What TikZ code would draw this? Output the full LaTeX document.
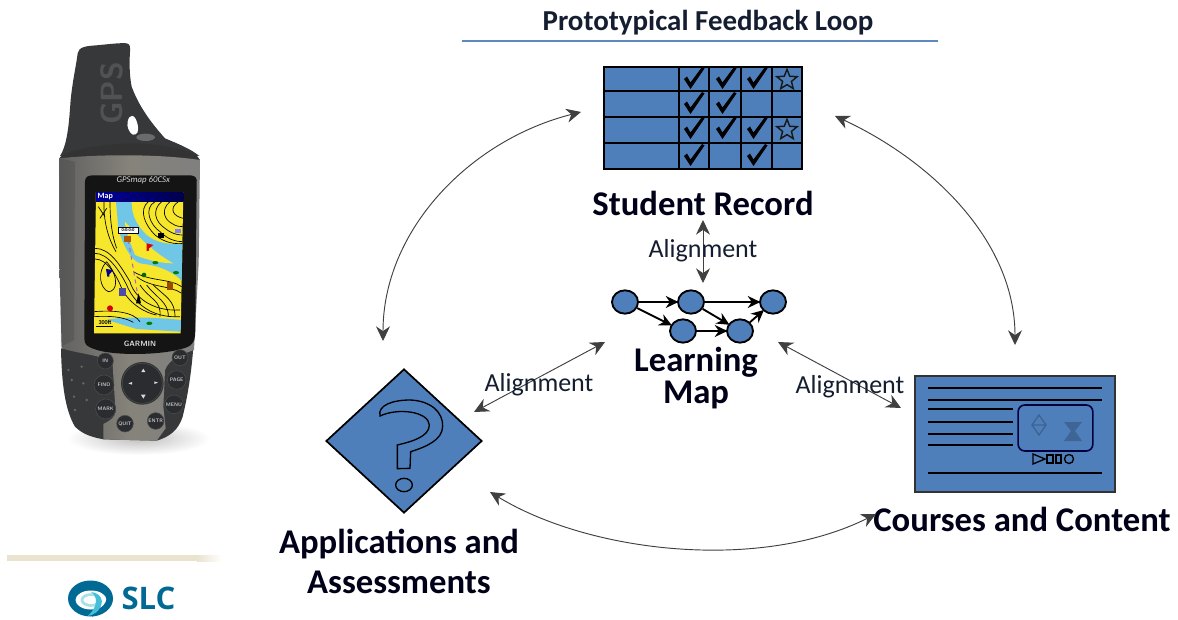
\documentclass[tikz,border=0pt]{standalone}
\usepackage{fontspec}
\setmainfont{Carlito}
\newfontfamily\logofont{Open Sans}
\usetikzlibrary{arrows.meta,shapes.geometric,calc}
\definecolor{tblue}{HTML}{4F7FBB}
\definecolor{ruleblue}{HTML}{5F88BC}
\definecolor{inktext}{HTML}{141E30}
\definecolor{gbody}{HTML}{86837A}
\definecolor{gdark}{HTML}{37383A}
\definecolor{gbtn}{HTML}{2A2C2F}
\definecolor{mapy}{HTML}{F6E62C}
\definecolor{mapb}{HTML}{6FC6E6}
\definecolor{logod}{HTML}{006A94}
\definecolor{logol}{HTML}{A9E0E6}
\definecolor{logom}{HTML}{45BFD8}
\definecolor{beige}{HTML}{E9E3CF}
\tikzset{
  arc/.style={draw=black!75,line width=.7pt,{Stealth[length=11pt,width=10.5pt]}-{Stealth[length=11pt,width=10.5pt]}},
  title/.style={font=\bfseries\fontsize{21.7}{24}\selectfont,text=inktext,inner sep=0pt},
  lab/.style={font=\bfseries\fontsize{26}{30}\selectfont,text=black!90!blue,inner sep=0pt,align=center},
  tightlab/.style={font=\bfseries\fontsize{26}{24}\selectfont,text=black!90!blue,inner sep=0pt,align=center},
  align lab/.style={font=\fontsize{19.5}{22}\selectfont,text=inktext,inner sep=0pt},
  mapnode/.style={ellipse,draw=black,line width=1.4pt,fill=tblue,minimum width=19.5pt,minimum height=17.5pt,inner sep=0pt},
  maparrow/.style={draw=black,line width=1.4pt,-{Stealth[length=9.5pt,width=9pt]},shorten >=-1pt},
  tbl/.style={draw=black,line width=1.2pt},
  cline/.style={draw=black,line width=.95pt},
  staricon/.style={star,star points=5,star point ratio=2.3,draw=black!90,line width=1.1pt,fill=tblue,minimum size=16pt,inner sep=0pt},
  contour/.style={draw=black,line width=.5pt},
  btn/.style={circle,fill=gbtn,draw=black!70,line width=.4pt,text=white!75!black,inner sep=0pt,font=\sffamily\bfseries\fontsize{3.8}{4}\selectfont},
}
\newcommand{\chkmark}[2]{\fill[black] ($(#1,#2)+(-9,-1)$) -- ++(3,-2.5) -- ++(3.5,6) -- ++(11.5,-15.5) -- ++(2.5,1.5) -- ++(-14,20.5) -- cycle;}
\begin{document}
\begin{tikzpicture}[x=0.75pt,y=-0.75pt]
\useasboundingbox (0,0) rectangle (1178,620);
\fill[white] (0,0) rectangle (1178,620);

% ---------- GPS device (coordinates from 3x crop)
\begin{scope}[shift={(0,30)},x=0.25pt,y=-0.25pt]
  \shade[inner color=black!25,outer color=white] (415,1225) ellipse (215 and 50);
  \fill[gdark] (180,378) .. controls (205,340) and (208,260) .. (212,210) .. controls (218,150) and (228,110) .. (233,70)
     .. controls (236,50) and (260,48) .. (290,46) .. controls (330,42) and (365,38) .. (380,40) .. controls (390,42) and (391,50) .. (390,65)
     .. controls (387,110) and (390,145) .. (395,170) .. controls (415,225) and (450,275) .. (495,325)
     .. controls (530,340) and (570,355) .. (598,378) -- cycle;
  \node[rotate=90,inner sep=0pt,text=black!68,font=\sffamily\bfseries\fontsize{23}{24}\selectfont] (gpstext) at (335,190) {GPS};
  \fill[white] (383,275) .. controls (388,250) and (405,252) .. (412,280) .. controls (418,305) and (412,316) .. (398,314) .. controls (386,305) and (380,290) .. (383,275) -- cycle;
  \fill[black!58] (437,322) ellipse (28 and 11);
  \fill[black!80] (178,385) .. controls (190,362) and (300,342) .. (400,340) .. controls (500,342) and (590,362) .. (600,390) -- (590,410) -- (185,415) -- cycle;
  % rubber grip
  \fill[gdark] (183,955) .. controls (185,1060) and (195,1140) .. (225,1190) .. controls (250,1215) and (280,1222) .. (310,1228)
     -- (470,1232) .. controls (510,1220) and (535,1200) .. (548,1160) .. controls (565,1090) and (575,1020) .. (580,950) -- cycle;
  \foreach \x/\y in {205/1020,215/1050,222/1100,225/1140,245/1010,250/1060,260/1110}{\fill[black!60] (\x,\y) circle (4);}
  % body
  \shade[left color=black!62,right color=black!50,middle color=gbody] (178,385) .. controls (300,372) and (480,372) .. (600,390)
     -- (596,700) -- (582,960) .. controls (540,975) and (510,985) .. (495,1020) -- (490,1130) -- (497,1195) -- (470,1232) -- (310,1228) -- (310,1182)
     .. controls (345,1165) and (352,1150) .. (345,1120) -- (338,1005) .. controls (320,975) and (250,975) .. (185,955) -- (178,700) -- cycle;
  \fill[black!75,opacity=.3] (178,385) -- (225,395) -- (222,930) -- (183,950) -- cycle;
  % bezel
  \fill[black!92] (255,455) .. controls (255,440) and (265,436) .. (280,436) -- (572,436) .. controls (588,438) and (592,445) .. (590,460)
     -- (586,900) .. controls (586,940) and (575,950) .. (540,958) .. controls (480,975) and (340,978) .. (285,958) .. controls (262,950) and (253,945) .. (253,925) -- cycle;
  \node[inner sep=0pt,text=white!85!black,font=\itshape\fontsize{6.6}{7}\selectfont] (model) at (430,452) {GPSmap 60CSx};
  \node[inner sep=0pt,text=white!85!black,font=\sffamily\bfseries\fontsize{5.7}{6}\selectfont] (brand) at (420,941) {GARMIN};
  % buttons
  \fill[black!80] (427,1060) circle (64);
  \node[btn,minimum size=30pt] (dpad) at (427,1060) {};
  \fill[white!85!black] (430,1016) -- ++(-6,10) -- ++(12,0) -- cycle (430,1106) -- ++(-7,-12) -- ++(14,0) -- cycle
     (385,1060) -- ++(11,-4) -- ++(0,8) -- cycle (474,1058) -- ++(-11,-4) -- ++(0,8) -- cycle;
  \node[btn,minimum size=12pt] (bin) at (316,993) {IN};
  \node[btn,minimum size=12pt] (bout) at (540,983) {OUT};
  \node[btn,minimum size=15pt] (bfind) at (312,1065) {FIND};
  \node[btn,minimum size=14pt] (bpage) at (530,1050) {PAGE};
  \node[btn,minimum size=15pt] (bmark) at (317,1137) {MARK};
  \node[btn,minimum size=14pt] (bmenu) at (522,1123) {MENU};
  \node[btn,minimum size=12.5pt] (bquit) at (375,1181) {QUIT};
  \node[btn,minimum size=12.5pt] (benter) at (467,1173) {ENTR};
\end{scope}

% ---------- map on the screen (coordinates from 3x crop)
\begin{scope}[shift={(90,185)},x=0.25pt,y=-0.25pt]
  \fill[mapy] (18,22) -- (280,22) -- (272,445) -- (12,445) -- cycle;
  \begin{scope}
    \clip (18,22) -- (280,22) -- (272,445) -- (12,445) -- cycle;
    \fill[mapb] (78,50) -- (125,50) .. controls (125,80) and (130,110) .. (170,150) .. controls (200,175) and (240,180) .. (280,175) -- (278,290)
       .. controls (240,250) and (190,240) .. (150,235) .. controls (120,225) and (95,170) .. (85,130) -- cycle;
    \fill[mapy] (105,110) .. controls (125,130) and (170,190) .. (250,235) .. controls (215,235) and (170,225) .. (135,210) .. controls (120,170) and (105,135) .. (105,110) -- cycle;
    \fill[mapb] (50,405) .. controls (90,395) and (180,395) .. (275,405) -- (272,440) -- (140,432) .. controls (100,420) and (70,410) .. (50,405) -- cycle;
    \draw[contour] (42,50) .. controls (40,120) and (60,170) .. (78,200);
    \draw[contour] (60,50) .. controls (60,100) and (65,150) .. (80,190);
    \draw[contour] (15,190) .. controls (60,190) and (90,240) .. (120,290) .. controls (130,330) and (180,380) .. (270,375);
    \draw[contour] (15,205) .. controls (55,205) and (90,260) .. (110,300) .. controls (130,350) and (180,400) .. (270,395);
    \draw[contour] (15,222) .. controls (50,222) and (80,270) .. (95,310) .. controls (120,360) and (170,385) .. (200,390);
    \draw[contour] (50,230) .. controls (20,260) and (30,310) .. (55,320) .. controls (80,320) and (90,280) .. (50,230);
    \draw[contour] (130,260) .. controls (180,290) and (240,280) .. (275,305);
    \draw[contour] (140,275) .. controls (185,310) and (240,300) .. (275,325);
    \draw[contour] (150,300) .. controls (180,345) and (215,345) .. (210,395);
    \draw[contour] (170,300) .. controls (200,340) and (235,350) .. (235,395);
    \draw[contour] (190,300) .. controls (225,335) and (255,345) .. (255,395);
    \draw[contour] (175,50) .. controls (145,75) and (165,120) .. (195,150) .. controls (225,175) and (260,178) .. (280,175);
    \draw[contour] (195,50) .. controls (160,70) and (180,120) .. (210,140) .. controls (240,170) and (270,170) .. (280,170);
    \draw[contour] (215,50) .. controls (185,75) and (195,110) .. (225,130) .. controls (250,150) and (270,150) .. (280,150);
    \draw[contour] (240,50) .. controls (210,75) and (225,105) .. (245,115) .. controls (260,125) and (270,125) .. (280,125);
    \draw[contour] (265,50) .. controls (235,70) and (250,95) .. (280,100);
    \draw[contour] (12,380) .. controls (70,375) and (130,380) .. (150,410);
    \draw[contour] (12,395) .. controls (60,392) and (100,395) .. (130,412);
    \draw[contour] (25,65) -- (45,95) (30,100) -- (50,70);
  \end{scope}
  \shade[left color=blue!60!black,right color=black!70!blue] (18,22) rectangle (280,50);
  \node[inner sep=0pt,text=white,font=\bfseries\fontsize{6}{7}\selectfont,anchor=west] (maptitle) at (22,36) {Map};
  \draw[draw=violet!60,line width=.8pt,dashed] (115,165) -- (145,340);
  \fill[black] (138,355) -- (146,325) -- (153,355) -- cycle;
  \fill[white,draw=black,line width=.2pt] (84,126) rectangle (145,143);
  \node[inner sep=0pt,font=\bfseries\fontsize{3.4}{4}\selectfont] (waypoint) at (114,134) {0:0:0:0};
  \fill[orange!70!black] (103,152) rectangle (122,170);
  \fill[red!85!black] (170,175) -- (190,180) -- (177,190) -- (176,198) -- (170,198) -- cycle;
  \fill[blue!60!black] (48,252) -- (70,255) -- (58,268) -- (58,275) -- (52,275) -- cycle;
  \fill[blue!50!black!70] (88,310) rectangle (108,332);
  \fill[red!85!black] (60,370) circle (9);
  \fill[green!40!black] (162,270) circle (7);
  \fill[green!50!black] (196,233) ellipse (9 and 5) (258,263) ellipse (9 and 5) (178,415) ellipse (9 and 5);
  \fill[orange!60!black] (230,290) rectangle (248,315);
  \fill[black] (205,143) rectangle (222,158);
  \fill[blue!50] (255,132) rectangle (272,145);
  \node[inner sep=0pt,font=\bfseries\fontsize{4.5}{5}\selectfont] (scalelab) at (45,413) {300ft};
  \draw[black,line width=.7pt] (18,424) -- (70,424);
\end{scope}

% ---------- logo area
\shade[left color=beige,right color=white] (197,555) rectangle (222,561);
\fill[beige] (7,555) rectangle (197,561);
\fill[logod] (90.5,598.5) ellipse (22.5 and 18);
\fill[white] (91,600) ellipse (15.5 and 9.5);
\draw[logol,line width=2pt] (91,600) ellipse (9 and 5.5);
\fill[logod] (92,616.5) .. controls (103,615) and (112,607) .. (113,598) -- (107,598) .. controls (106,604) and (101,609) .. (96,611) -- cycle;
\fill[logom] (91,592) .. controls (100,593) and (104,600) .. (101,606) .. controls (99,611) and (94,615) .. (88,616)
   .. controls (93,611) and (96,606) .. (96,601) .. controls (96,597) and (94,594) .. (91,592) -- cycle;
\node[inner sep=0pt,text=logod,font=\logofont\bfseries\fontsize{23.3}{24}\selectfont] (slc) at (148.5,598.5) {SLC};

% ---------- title
\node[title] (head) at (708,23) {Prototypical Feedback Loop};
\coordinate (ruleL) at (462,41);
\coordinate (ruleR) at (938,41);
\draw[ruleblue,line width=.8pt] (ruleL) -- (ruleR);

% ---------- student record table
\node[draw=black,line width=1.2pt,fill=tblue,minimum width=148.5pt,minimum height=76.5pt,inner sep=0pt] (record) at (703,118) {};
\foreach \x in {679,709,741,772}{\draw[tbl] (\x,67) -- (\x,169);}
\foreach \y in {91,117,143}{\draw[tbl] (604,\y) -- (802,\y);}
\chkmark{693}{80}\chkmark{725}{80}\chkmark{756}{80}
\chkmark{693}{105}\chkmark{725}{105}
\chkmark{693}{130}\chkmark{725}{130}\chkmark{756}{130}
\chkmark{693}{157}\chkmark{756}{157}
\node[staricon] (star1) at (787,80) {};
\node[staricon] (star2) at (787,130) {};
\node[lab] (recordlab) at (703,203) {Student Record};

% ---------- learning map
\node[mapnode] (m1) at (625,302) {};
\node[mapnode] (m2) at (691,302) {};
\node[mapnode] (m3) at (773,302) {};
\node[mapnode] (m4) at (683,331) {};
\node[mapnode] (m5) at (740,331) {};
\draw[maparrow] (m1) -- (m2);
\draw[maparrow] (m2) -- (m3);
\draw[maparrow] (m1) -- (m4);
\draw[maparrow] (m4) -- (m5);
\draw[maparrow] (m2) -- (m5);
\draw[maparrow] (m5) -- (m3);
\node[tightlab] (maplab) at (696,378) {Learning\\Map};

% ---------- assessment diamond
\node[diamond,draw=black,line width=1.3pt,fill=tblue,minimum width=117pt,minimum height=108pt,inner sep=0pt] (assess) at (404,441) {};
\begin{scope}[shift={(270,330)},x=0.25pt,y=-0.25pt]
  \draw[draw=black,line width=1pt,fill=tblue] (330,258) .. controls (322,225) and (370,210) .. (420,210) .. controls (480,212) and (520,245) .. (518,290)
     .. controls (516,330) and (470,350) .. (422,365) -- (420,415) -- (382,416) -- (382,345) .. controls (425,335) and (478,320) .. (478,285)
     .. controls (476,245) and (385,232) .. (330,258) -- cycle;
  \draw[draw=black,line width=1pt] (402,465) ellipse (25 and 20);
\end{scope}
\node[lab] (assesslab) at (399,561) {Applications and\\Assessments};

% ---------- courses and content
\node[draw=black!80,line width=1.1pt,fill=tblue,minimum width=150pt,minimum height=87pt,inner sep=0pt] (course) at (1015,434) {};
\foreach \y in {388,400,473}{\draw[cline] (928,\y) -- (1102,\y);}
\foreach \y in {409,422,434,445}{\draw[cline] (928,\y) -- (1013,\y);}
\node[draw=black!75!blue,rounded corners=5pt,line width=1.2pt,minimum width=56pt,minimum height=34.5pt,inner sep=0pt] (player) at (1055.5,428) {};
\draw[draw=black!22!tblue,line width=1pt] (1039,415) -- (1046,425) -- (1039,435) -- (1032,425) -- cycle (1032,425) -- (1046,425);
\fill[black!20!tblue] (1064,422) -- (1082,422) -- (1075,431) -- (1082,441) -- (1064,441) -- (1071,431) -- cycle;
\draw[draw=black,line width=1pt] (1033,454) -- (1045,459) -- (1033,464) -- cycle;
\draw[draw=black,line width=1pt] (1047,455) rectangle (1053,463) (1056,455) rectangle (1061,463);
\draw[draw=black,line width=1pt] (1069,459) circle (4.5);
\node[lab] (courselab) at (1022,519) {Courses and Content};

% ---------- connectors
\coordinate (a1) at (581,112);
\coordinate (a2) at (383,341);
\coordinate (b1) at (835,116);
\coordinate (b2) at (1015,345);
\coordinate (c1) at (490,492);
\coordinate (c2) at (876,514);
\coordinate (d1) at (703,220);
\coordinate (d2) at (703,283);
\coordinate (e1) at (605,342);
\coordinate (e2) at (474,412);
\coordinate (f1) at (778,342);
\coordinate (f2) at (901,408);
\draw[arc] (a1) .. controls (470,140) and (383,230) .. (a2);
\draw[arc] (b1) .. controls (930,160) and (1015,240) .. (b2);
\draw[arc] (c1) .. controls (590,553) and (760,572) .. (c2);
\draw[arc] (d1) -- (d2);
\draw[arc] (e1) -- (e2);
\draw[arc] (f1) -- (f2);
\node[align lab] (al1) at (703,251) {Alignment};
\node[align lab] (al2) at (539,385) {Alignment};
\node[align lab] (al3) at (850,387) {Alignment};
\end{tikzpicture}
\end{document}
